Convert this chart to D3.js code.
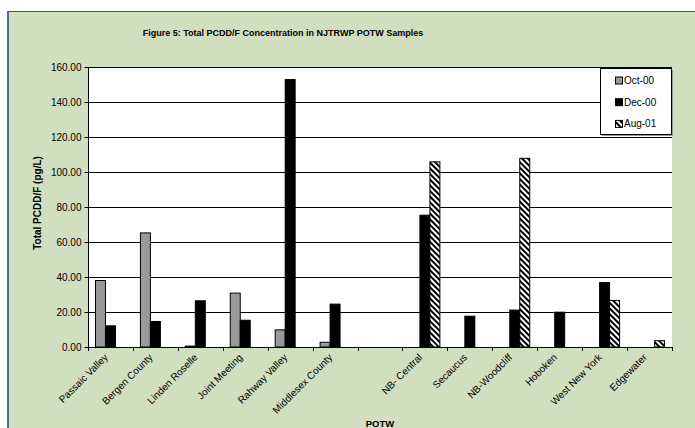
<!DOCTYPE html>
<html><head><meta charset="utf-8">
<script src="https://cdn.jsdelivr.net/npm/d3@7"></script>
<style>
body{margin:0;background:#fff;}
text{font-family:"Liberation Sans",Arial,sans-serif;}
</style></head>
<body>
<svg id="c" width="695" height="428"></svg>
<script>
const categories = ["Passaic Valley","Bergen County","Linden Roselle","Joint Meeting","Rahway Valley","Middlesex County","","NB- Central","Secaucus","NB-Woodcliff","Hoboken","West New York","Edgewater"];
const seriesNames = ["Oct-00","Dec-00","Aug-01"];
const oct00 = [38.0, 65.2, 0.5, 30.8, 9.8, 2.7, null, null, null, null, null, null, null];
const dec00 = [12.1, 14.6, 26.4, 15.3, 152.8, 24.5, null, 75.3, 17.6, 21.1, 19.9, 36.8, null];
const aug01 = [null, null, null, null, null, null, null, 105.8, null, 107.8, null, 26.6, 3.6];
const yTicks = [0,20,40,60,80,100,120,140,160];
const title = "Figure 5: Total PCDD/F Concentration in NJTRWP POTW Samples";
const yTitle = "Total PCDD/F (pg/L)";
const xTitle = "POTW";

const svg = d3.select("#c");
const W = 695, H = 428;
const plot = {left: 88, right: 672, top: 67, bottom: 347};

// defs: hatch pattern
const defs = svg.append("defs");
const pat = defs.append("pattern").attr("id","hatch").attr("patternUnits","userSpaceOnUse")
  .attr("width",4).attr("height",4).attr("patternTransform","rotate(-45)");
pat.append("rect").attr("width",4).attr("height",4).attr("fill","#fff");
pat.append("line").attr("x1",1).attr("y1",0).attr("x2",1).attr("y2",4).attr("stroke","#000").attr("stroke-width",2);

// chart background frame
svg.append("rect").attr("x",8).attr("y",11).attr("width",W-8).attr("height",H-11).attr("fill","#d2dec0");
svg.append("line").attr("x1",8).attr("y1",11.5).attr("x2",W).attr("y2",11.5).attr("stroke","#4a5560").attr("stroke-width",1.2);
svg.append("line").attr("x1",8).attr("y1",11).attr("x2",8).attr("y2",H).attr("stroke","#3d5f8f").attr("stroke-width",1.8);

// plot area
svg.append("rect").attr("x",plot.left).attr("y",plot.top).attr("width",plot.right-plot.left).attr("height",plot.bottom-plot.top).attr("fill","#fff");

const x = d3.scaleBand().domain(d3.range(categories.length)).range([plot.left, plot.right]).paddingInner(0).paddingOuter(0);
const cw = x.bandwidth();
const gap = cw * 1.5 / 4.5;
const xs = d3.scaleBand().domain(seriesNames).range([gap/2, cw - gap/2]);
const y = d3.scaleLinear().domain([0,160]).range([plot.bottom, plot.top]);

// gridlines
svg.append("g").selectAll("line").data(yTicks.filter(d=>d>0)).join("line")
  .attr("x1",plot.left).attr("x2",plot.right)
  .attr("y1",d=>Math.round(y(d))+0.5).attr("y2",d=>Math.round(y(d))+0.5)
  .attr("stroke","#000").attr("stroke-width",1);

// bars
const seriesData = [oct00, dec00, aug01];
const fills = ["#999999","#000000","url(#hatch)"];
seriesData.forEach((vals, si) => {
  svg.append("g").selectAll("rect").data(vals.map((v,i)=>({v,i})).filter(d=>d.v!=null)).join("rect")
    .attr("x", d => x(d.i) + xs(seriesNames[si]))
    .attr("width", xs.bandwidth())
    .attr("y", d => y(d.v))
    .attr("height", d => y(0) - y(d.v))
    .attr("fill", fills[si])
    .attr("stroke","#000").attr("stroke-width",1);
});

// y axis
const yAxis = d3.axisLeft(y).tickValues(yTicks).tickFormat(d3.format(".2f")).tickSize(4).tickPadding(3);
const gy = svg.append("g").attr("transform",`translate(${plot.left+0.5},0)`).call(yAxis);
gy.select(".domain").attr("stroke","#000").attr("d",`M0,${plot.top}V${plot.bottom}`);
gy.selectAll(".tick line").attr("stroke","#000");
gy.selectAll(".tick text").attr("font-size","10px").attr("fill","#000").attr("font-family","Liberation Sans, Arial, sans-serif");

// x axis
const boundaries = d3.range(categories.length+1).map(i => plot.left + i*cw);
const gx = svg.append("g");
gx.append("line").attr("x1",plot.left).attr("x2",plot.right).attr("y1",plot.bottom+0.5).attr("y2",plot.bottom+0.5).attr("stroke","#000");
gx.selectAll("line.t").data(boundaries).join("line").attr("class","t")
  .attr("x1",d=>Math.round(d)+0.5).attr("x2",d=>Math.round(d)+0.5)
  .attr("y1",plot.bottom).attr("y2",plot.bottom+4).attr("stroke","#000");
gx.selectAll("text").data(categories.map((c,i)=>({c,i}))).join("text")
  .attr("transform", d => `translate(${x(d.i)+cw/2-2},${plot.bottom+11}) rotate(-45)`)
  .attr("text-anchor","end").attr("font-size","10px").attr("fill","#000")
  .text(d=>d.c);

// titles
svg.append("text").attr("x",283).attr("y",36).attr("text-anchor","middle")
  .attr("font-size","9px").attr("font-weight","bold").text(title);
svg.append("text").attr("transform",`translate(41,${(plot.top+plot.bottom)/2-4}) rotate(-90)`)
  .attr("text-anchor","middle").attr("font-size","10px").attr("font-weight","bold").text(yTitle);
svg.append("text").attr("x",(plot.left+plot.right)/2).attr("y",427).attr("text-anchor","middle")
  .attr("font-size","9.5px").attr("font-weight","bold").text(xTitle);

// legend
const lg = svg.append("g");
lg.append("rect").attr("x",602).attr("y",70).attr("width",71).attr("height",66).attr("fill","#999");
lg.append("rect").attr("x",600.5).attr("y",68.5).attr("width",71).attr("height",66).attr("fill","#fff").attr("stroke","#000").attr("stroke-width",1);
seriesNames.forEach((s,i) => {
  const cy = 80.5 + i*21.7;
  lg.append("rect").attr("x",615.5).attr("y",cy-3.5).attr("width",7).attr("height",7)
    .attr("fill",fills[i]).attr("stroke","#000").attr("stroke-width",1);
  lg.append("text").attr("x",624).attr("y",cy+3.5).attr("font-size","10px").text(s);
});
</script>
</body></html>
